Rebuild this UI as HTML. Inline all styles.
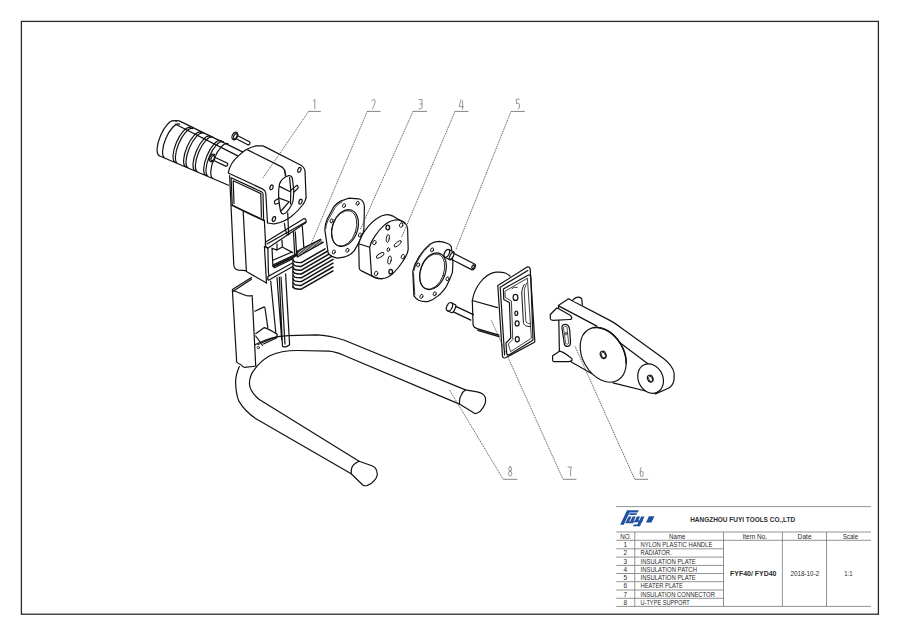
<!DOCTYPE html>
<html><head><meta charset="utf-8">
<style>
html,body{margin:0;padding:0;background:#fff;width:900px;height:636px;overflow:hidden}
svg{display:block}
text{font-family:"Liberation Sans",sans-serif}
</style></head><body>
<svg width="900" height="636" viewBox="0 0 900 636">
<rect x="0" y="0" width="900" height="636" fill="#fff"/>
<!-- border -->
<rect x="21.4" y="21.4" width="857" height="592.8" fill="none" stroke="#2a2a2a" stroke-width="1.3"/>

<!-- DRAWING -->
<g id="drawing" fill="none" stroke="#111" stroke-width="1.2" stroke-linejoin="round" stroke-linecap="round">
<g id="handle" transform="translate(166,138) rotate(23)">
<path d="M1,-19 A7,19 0 0 0 1,19 M0,19 H76 M1,-19 C1.5,-20 2.5,-20 3,-19 M7,-18 A7,18.5 0 0 0 7,19 M18.3,-19 A7,19 0 0 0 18.3,19 M20.9,-19 A7,19 0 0 0 20.9,19 M29.8,-19 A7,19 0 0 0 29.8,19 M32.4,-19 A7,19 0 0 0 32.4,19 M40,-19 A7,19 0 0 0 40,19 M42.6,-19 A7,19 0 0 0 42.6,19 M51.6,-19 A7,19 0 0 0 51.6,19 M54.1,-19 A7,19 0 0 0 54.1,19 M59.3,-19 A7,19 0 0 0 59.3,19 "/>
</g>
<path d="M176.5,120.6 C178,120.5 179.5,120.8 180.3,121.4 L242.5,151.9 M175.6,124.2 L238.2,156.1"/>
<g id="bolts">
<g transform="translate(234.9,136) rotate(28)"><path fill="#fff" stroke="none" d="M0,-4 H2 V4 H0 Z"/><ellipse rx="2.6" ry="4" fill="#fff"/><path d="M3,-1.7 H15.5 A1.3,1.7 0 0 1 15.5,1.7 H3"/><ellipse cx="0.5" rx="1.5" ry="2.8"/></g>
<g transform="translate(212.3,158) rotate(25)"><path fill="#fff" stroke="none" d="M0,-4 H2 V4 H0 Z"/><ellipse rx="2.6" ry="4" fill="#fff"/><path d="M3,-1.7 H15.5 A1.3,1.7 0 0 1 15.5,1.7 H3"/><ellipse cx="0.5" rx="1.5" ry="2.8"/></g>
</g>
<g id="housing">
<path fill="#fff" stroke="none" d="M228.3,172.6 C229.5,166 234,159.5 239.2,155.1 C243.5,151 249,147.5 256.2,145.9 L262.8,145.9 L265.6,147.1 L300.5,165 C302.5,166 304.5,168 305,171 L306.1,197.6 C305.5,200 304.5,202 303,203.7 C300,208 297,212 291,217 C286,220.5 280,223 275.4,223.7 L268.3,223.1 L268,228 L233,228 Z"/>
<path d="M228.3,172.6 C229.5,166 234,159.5 239.2,155.1 C243.5,151 249,147.5 256.2,145.9 L262.8,145.9 L265.6,147.1 L300.5,165 C302.5,166 304.5,168 305,171 L306.1,197.6"/>
<path d="M247.7,149.9 L280.7,166.4 C283,167.5 284.6,169.5 285,172 L285.4,176"/>
<path d="M228.3,173 L262.8,189.1 C264.6,190 265.6,191.5 265.8,193.5 L267.5,223"/>
<path d="M231.1,177.8 L261.5,191.8 C262.5,192.3 263,193 263,194 L263.6,219.5 M231.1,177.8 L232.2,205"/>
<path d="M233.2,180.8 L260.8,193.6 L261.4,217.2 M233.2,180.8 L234,203.5"/>
<path d="M306.1,197.6 C305.5,201 304,203 303,204.5 C300,208.5 296.5,212.5 291,216.8 C286.5,220 281,222.8 275.4,223.7 C272,224 270,223.6 268,223"/>
<path d="M288.7,175.6 C285,176.5 280.5,180 279.5,184 C278.3,190 278.6,202 280.5,210.9 C281,213 282,214.2 283.5,214 C285,213.5 286.5,212.5 287.5,211 C290.5,207.5 292.8,203.7 293.3,199 L293.8,190.4 L292.3,178 C291.6,176 290.2,175.3 288.7,175.6 Z"/>
<path d="M279.5,186.4 L289.7,191.5 M280.5,198.6 L289.2,201.7 L281.5,210.5 M289.6,177.6 L290.8,190.4 L290.5,204"/>
<path d="M290.8,190.4 L296.4,185.6 C297.8,185 298.4,186.8 297.9,188.4 L293.8,192.2"/>
<path d="M279.5,198.1 L275,200.5 C274,201.5 274.3,204 275.8,204.2 L279.5,202.7"/>
<ellipse cx="271.5" cy="187.3" rx="1.5" ry="2.5" transform="rotate(20 271.5 187.3)"/>
<ellipse cx="299.4" cy="169.9" rx="1.5" ry="2.5" transform="rotate(20 299.4 169.9)"/>
<ellipse cx="300.5" cy="201.6" rx="1.5" ry="2.5" transform="rotate(20 300.5 201.6)"/>
<ellipse cx="273.9" cy="219" rx="1.5" ry="2.5" transform="rotate(20 273.9 219)"/>
<path d="M284.6,170 L285.7,175.3 M287.7,212.9 L288.7,235"/>
</g>
<g id="frame">
<path d="M229.6,175.5 L233.8,265.3 C234,267.5 236,269.8 238.5,270.2 L245.8,270.6"/>
<path d="M243.2,211.3 L246.4,271.6 L266.5,283"/>
<path d="M232.2,205.3 L243.9,211 L264.2,220.6" stroke-width="1.7"/>
<path d="M264.4,221.3 L265.5,242.2 M264.4,246.3 L266.5,283 M264.4,246.3 L267.5,248.2"/>
<path d="M265.3,242.2 L304.2,218.6 C305.6,218.5 306.5,220.5 306.1,222.4 L268.4,247.8 C266.5,248 265,246 265.3,242.2 Z"/>
<path d="M267,244.1 L305.6,221.9"/>
<path d="M284.4,223.3 L285.4,230 L287.2,234.6"/>
<path d="M293.4,231.8 L294.8,255.4 M295.3,231.8 L296.7,255.4 M302.3,226.2 L303.8,246.9"/>
<path d="M272,248.2 L272.9,266.4 M272,248.2 L277,250.1 L282.3,247 L292.7,252.6 M277,244.1 L277,250.1 M282,240 L282.3,247 M272.9,260.2 L292,252"/>
<path d="M267.9,247.8 L268.4,272 L269,276"/>
<path d="M273.8,264.6 L296.5,253.9 M274.5,267.7 L297.7,256.4 M273.8,264.6 C273,265.5 273.3,267.3 274.5,267.7"/>
<path d="M274.2,266.1 L297,255.1" stroke-dasharray="0.7 0.6" stroke-width="1.8"/>
<path d="M268,276.5 L305,256 M268.5,280.2 L305,259.6 M268,276.5 C267.5,278 267.6,279.6 268.5,280.2"/>
<path d="M270.7,281 L276.2,336.8 M277,277.5 L281.7,340 M279.3,277 L282.5,346.2 C283.5,347.5 287,347 289.6,344.7 L285.6,273.9 M281,277 L285,344"/>
<path d="M294.8,256 L296,280 M297.3,256 L298.5,275"/>
</g>
<g id="radiator">
<path fill="#fff" stroke="none" d="M292.8,258.6 L322,241 L333,246 L334,272 L300,292 L293,290 Z"/>
<path d="M293.2,260.0 C293.4,262.0 295.5,262.8 301.3,262.6 L325.1,248.8 M293.2,263.8 C293.4,265.8 295.5,266.6 301.3,266.4 L333,248.0 M293.2,267.6 C293.4,269.6 295.5,270.4 301.3,270.2 L333,251.8 M293.2,271.4 C293.4,273.4 295.5,274.2 301.3,274.0 L333,255.6 M293.2,275.2 C293.4,277.2 295.5,278.0 301.3,277.8 L333,259.4 M293.2,279.0 C293.4,281.0 295.5,281.8 301.3,281.6 L333,263.2 M293.2,282.8 C293.4,284.8 295.5,285.6 301.3,285.4 L333,267.0 M293.2,286.6 C293.4,288.6 295.5,289.4 301.3,289.2 L333,270.8 " stroke-width="1.5"/>
<path d="M292.9,257.5 L292.9,287.5"/>
<path d="M297.9,250.7 L320.6,239.4 M297.4,256.9 L323.4,242.2 M297.9,250.7 C296.8,252.5 296.6,255 297.4,256.9"/>
<path d="M297.7,253.8 L322,240.8" stroke-width="4.6" stroke-dasharray="0.7 0.6" stroke-linecap="butt"/>
</g>
<g id="plate3">
<path fill="#fff" d="M348.6,198.2 L358.8,198.8 C361,199.5 362.5,200.5 363.3,202.2 C364,203.5 364.4,205 364.4,206.7 L363.9,229.4 C363.5,232 363,233.5 362.2,235 C359.5,241.5 357,246.5 354.2,250.9 C351,254.5 347.5,256.5 344,257.1 L337.2,258.2 C333.5,257.5 330,255.5 328.2,253.1 L324.8,229.4 C325,225 326,222 327.1,219.2 L333.8,206.7 C336,204 338,202.5 340.6,201.1 Z"/>
<path d="M325.9,228.5 C326.2,224 327.5,221 329,218.5 L335,207.8 C337,205 339.5,203 342,202" stroke-width="0.8"/>
<ellipse cx="345" cy="228" rx="12.6" ry="19" transform="rotate(19 345 228)"/>
<ellipse cx="344.2" cy="228.4" rx="11.8" ry="18.4" transform="rotate(19 344.2 228.4)" stroke-width="0.8"/>
<g stroke-width="0.9">
<ellipse cx="344" cy="205.6" rx="1.4" ry="2.1" transform="rotate(20 344 205.6)"/>
<ellipse cx="357.6" cy="203.3" rx="1.4" ry="2.1" transform="rotate(20 357.6 203.3)"/>
<ellipse cx="331.6" cy="220.9" rx="1.4" ry="2.1" transform="rotate(20 331.6 220.9)"/>
<ellipse cx="359.9" cy="235" rx="1.4" ry="2.1" transform="rotate(20 359.9 235)"/>
<ellipse cx="347.4" cy="250.3" rx="1.4" ry="2.1" transform="rotate(20 347.4 250.3)"/>
<ellipse cx="333.8" cy="252" rx="1.4" ry="2.1" transform="rotate(20 333.8 252)"/>
</g>
</g>
<g id="patch4">
<path fill="#fff" d="M358.7,243.8 C360.5,238 362.5,233.5 365.6,229.8 C369,225 373,221 377.3,218.2 C380.5,216 383.5,215 386.6,214.7 C389,214.6 391.5,215.3 393.6,216.4 L405.2,223.4 C406.5,224.5 407.3,226.5 407.6,228.6 L408.2,249.6 C407.5,253.5 405.5,257.5 402.9,261.2 C399.5,266.5 396,270.5 392.4,274.1 C389,276.8 385.5,278.5 382,278.7 C379.5,278.8 377,278.3 375,277.6 L369.1,274.6 L361,270.6 C360,270 359.3,269 359.2,268 Z"/>
<path d="M358.7,243.8 L369.7,247.3 L371.5,275.2 M369.7,247.3 C370.5,243.5 372,240 374.4,236.8 C377.5,232 381,228 384.3,225.1 C388,222 392.5,220 397.1,219.9 C400,219.8 403,221 405.2,223.4"/>
<path d="M371.5,275.2 C374,277.5 378,278.8 382,278.7"/>
<g stroke-width="0.9">
<ellipse cx="387.8" cy="238.5" rx="1.5" ry="4" transform="rotate(8 387.8 238.5)"/>
<ellipse cx="389.5" cy="260.1" rx="1.7" ry="4.2" transform="rotate(8 389.5 260.1)"/>
<ellipse cx="380.2" cy="255.4" rx="4.3" ry="1.7" transform="rotate(-32 380.2 255.4)"/>
<ellipse cx="397.7" cy="243.8" rx="4.4" ry="1.7" transform="rotate(-38 397.7 243.8)"/>
<ellipse cx="388.4" cy="249.6" rx="1.3" ry="1.9" transform="rotate(15 388.4 249.6)"/>
<ellipse cx="387.8" cy="227.5" rx="1.8" ry="2.3" stroke-width="1.3"/>
<ellipse cx="401.2" cy="225.1" rx="1.6" ry="2.3" transform="rotate(20 401.2 225.1)"/>
<ellipse cx="374.4" cy="242.6" rx="1.6" ry="2.3" transform="rotate(20 374.4 242.6)"/>
<ellipse cx="402.9" cy="256.6" rx="1.6" ry="2.3" transform="rotate(20 402.9 256.6)"/>
<ellipse cx="376.1" cy="273.5" rx="1.6" ry="2.3" transform="rotate(20 376.1 273.5)"/>
<ellipse cx="390.7" cy="271.7" rx="1.8" ry="2.3" stroke-width="1.3"/>
</g>
</g>
<g id="plate5">
<path fill="#fff" d="M439,241.3 C442,241.6 445,242.3 447.6,243.5 C449.5,244.3 450.7,245.3 451.3,246.7 L452.9,262.7 L452.4,272.4 C450.7,277.5 448.7,282 446.5,286.3 C443.5,290.5 441,293.5 438,295.9 C435,298.5 431.5,300.5 428.3,301.3 C425,301.8 421.5,301.4 418.7,300.2 C416.5,299 415,297.5 413.9,295.9 L412.8,271.3 C414,266 416,261.5 418.7,257.4 C421.5,252.5 425,248 429.4,244.6 C432.5,242.5 435.5,241.3 439,241.3 Z"/>
<path d="M414.1,270.5 C415.2,265.5 417.2,261.2 419.8,257.2 C422.6,252.5 426,248.5 430,245.3" stroke-width="0.8"/>
<path d="M413.5,273 L414.8,295" stroke-width="0.8"/>
<ellipse cx="433" cy="271.2" rx="12.4" ry="19" transform="rotate(20 433 271.2)"/>
<ellipse cx="432.2" cy="271.6" rx="11.6" ry="18.4" transform="rotate(20 432.2 271.6)" stroke-width="0.8"/>
<g stroke-width="0.9">
<ellipse cx="432.1" cy="249.9" rx="1.4" ry="2.1" transform="rotate(20 432.1 249.9)"/>
<ellipse cx="418.2" cy="264.9" rx="1.4" ry="2.1" transform="rotate(20 418.2 264.9)"/>
<ellipse cx="447.6" cy="278.8" rx="1.4" ry="2.1" transform="rotate(20 447.6 278.8)"/>
<ellipse cx="434.7" cy="293.8" rx="1.4" ry="2.1" transform="rotate(20 434.7 293.8)"/>
<ellipse cx="421.4" cy="296.4" rx="1.4" ry="2.1" transform="rotate(20 421.4 296.4)"/>
</g>
<g transform="translate(446.8,253.4) rotate(27)">
<path fill="#fff" d="M0,-4.5 H6 V4.5 H0 Z" stroke="none"/>
<ellipse cx="0" cy="0" rx="2.3" ry="4.3" fill="#fff"/>
<path d="M0,-4.3 H5.5 M0,4.3 H5.5"/>
<ellipse cx="5.5" cy="0" rx="1.6" ry="4.3" fill="#fff"/>
<path d="M5.5,-3.2 H29.5 A2,3.2 0 0 1 29.5,3.2 H6"/>
<ellipse cx="29.5" cy="0" rx="1.1" ry="1.9"/>
</g>
</g>
<g id="heater7">
<path d="M472.3,300.5 C473.5,293.5 476.5,287 480.5,282 C485,276.5 490.5,273 495.9,272.2 C500,271.8 503,272.2 505.3,273 C507.5,274 509,275 510,276.2"/>
<path d="M472.3,300.5 L473.1,324.9 C473.5,327 475.5,328.2 477.8,328.8 L499,335.1 M472.3,300.5 L497.5,307.6 M477.8,330.3 L499,336.6"/>
<g transform="translate(449.5,306.8) rotate(25)">
<ellipse rx="2.7" ry="4.5"/><path d="M0.5,-4.4 H4.5 M0.5,4.4 H4.5 M4.5,-4.4 A1.4,4.4 0 0 1 4.5,4.4"/>
<path d="M5.5,-3 H25 M5.5,3 H25"/>
</g>
<path fill="#fff" d="M497.8,285.5 L527.1,267.1 C528.6,266.4 530,267.5 530.2,269.4 L534.8,340.9 C534.9,341.8 534.5,342.3 534,342.5 L505.5,357.8 C504,358.4 502.8,357.5 502.5,356.3 Z"/>
<path d="M500.2,287.3 L527.8,270.4 M500.2,287.3 L504.6,355"/>
<path d="M503.4,289 L528.4,275 C529.8,274.7 530.7,275.8 530.8,277.1 L533,339.2 C533,340.1 532.4,340.7 531.6,340.9 L509.6,354.6 C508.3,355.2 507,354.6 506.7,353.3 L506,343 L510.8,338 L509.4,302.5 L503.8,299.4 Z"/>
<path d="M505.3,291 L527.4,278.2 L531.4,338.2 L510.6,351.6 L508.3,344 L512.8,339.5 L511.4,301 L505.6,297.6 Z" stroke-width="0.8"/>
<path d="M524.2,284.5 C522.3,288 521.6,291 521.8,294 L523.4,322.5 C523.7,325.3 526,326.5 530.4,326.5" stroke-width="1"/>
<path d="M526.6,283.2 C524.8,287 524.2,290 524.3,293 L525.8,320.5 C526,322.8 527.8,323.8 530.2,323.8" stroke-width="0.8"/>
<path d="M512,288.6 C513.5,287.2 515.5,286.8 517.2,287.5" stroke-width="0.9"/>
<ellipse cx="515.5" cy="297.4" rx="2.4" ry="3"/>
<ellipse cx="516.3" cy="313.2" rx="1.4" ry="2.2"/>
<ellipse cx="517.1" cy="323.4" rx="2" ry="2.6"/>
<ellipse cx="517.3" cy="339.2" rx="2" ry="2.6"/>
</g>
<g id="heater6">
<path fill="#fff" stroke="none" d="M558.3,305.4 L568.5,298.7 L610.3,320.6 L662.9,357.9 C673,365 674.5,372 674,380.3 C673,385 670,388 667.3,388.8 L655.4,393.9 L611.2,382 L570.5,361.6 L559.4,353.1 Z"/>
<path d="M558.3,305.4 L568.5,298.7 L610.3,320.6 C614.5,322.8 619.5,326.5 623.8,329.8 L662.9,357.9 C669,362.5 673.5,368 674.2,373.5 L674,380.3 C673,384.5 670.5,387.5 667.3,388.8 L655.4,393.9"/>
<path d="M558.6,305.9 L596.9,326.1 M614,338.3 L648.2,364"/>
<path d="M558.6,305.9 L558.6,309.1 M558.8,320.3 L559.4,351.5 M570.5,361.6 L595.9,376 M612.9,382.8 L653.7,393"/>
<path fill="#fff" d="M572.2,300.6 C574,298.5 575.5,297.2 577.6,297.1 C580,297 581.6,298 581.8,299.5 L582.4,304.8"/>
<path fill="#fff" d="M550.3,314.5 L556.7,308 L558.3,308.6 L570.6,315.5 C571.5,316.5 571.8,317.8 571.7,318.7 C571,319.3 570.2,319.5 569.5,319.5 L553,320.3 C551,320.2 550.4,319.5 550.3,318.7 Z"/>
<path fill="#fff" d="M552.6,355.7 L559.5,351.2 C561.5,351.2 563.5,352.2 570.5,357.4 C571.8,358.3 572.3,359 572.2,359.9 C571.5,361.2 570,361.6 568.8,361.6 L553.5,361.6 C552.8,361.2 552.5,360.2 552.6,359.1 Z"/>
<path d="M562.5,325.5 C564,324.3 566.5,324.3 568,325.5 C569,326.5 569.5,328 569.7,330 L570.5,342.5 C570.5,344.5 569.5,346 568,346.3 C566,346.6 564.8,345.8 564.3,344 L562,328 C561.9,327 562,326 562.5,325.5 Z"/>
<path d="M563.8,327 C564.8,326.2 566.3,326.2 567,327 L568.6,343 C568.4,344.3 566.5,344.8 565.8,343.5 Z" stroke-width="0.7"/>
<ellipse cx="566.2" cy="333.6" rx="1" ry="1.3" stroke-width="0.8"/>
<ellipse cx="603.2" cy="354.8" rx="20.5" ry="29.3" transform="rotate(-30 603.2 354.8)" fill="#fff"/>
<path d="M593.6,327.6 L595.8,327.4 L598.0,327.5 L600.3,327.9 L602.6,328.5 L604.9,329.4 L607.2,330.5 L609.4,331.9 L611.6,333.5 L613.7,335.4 L615.7,337.4 L617.6,339.6 L619.3,342.0 L620.9,344.4 L622.3,347.0 L623.5,349.7 L624.5,352.4 L625.2,355.2 L625.8,357.9 L626.1,360.6 L626.2,363.3" stroke-width="1.5"/>
<ellipse cx="603.2" cy="354.8" rx="2.8" ry="3.8" transform="rotate(-20 603.2 354.8)"/>
<ellipse cx="603.5" cy="355.1" rx="1.9" ry="2.9" transform="rotate(-20 603.5 355.1)" stroke-width="0.8"/>
<ellipse cx="650.6" cy="378.6" rx="12.3" ry="15.2" transform="rotate(-25 650.6 378.6)" fill="#fff"/>
<ellipse cx="650.3" cy="378.6" rx="2.7" ry="3.6" transform="rotate(-20 650.3 378.6)"/>
<ellipse cx="650.6" cy="378.9" rx="1.8" ry="2.7" transform="rotate(-20 650.6 378.9)" stroke-width="0.8"/>
</g>
<g id="bracket">
<path fill="#fff" stroke="none" d="M232.4,290 L251.4,278 L252.5,296 L255.7,365.6 L244.5,367.4 L236.7,362.2 Z M252.5,311 L264.3,306.9 L267.8,327.6 L277.3,334.5 L276.4,338 L263.5,344 L255.7,345 Z"/>
<path d="M232.4,289.6 L251.4,277.5 M233.2,291.3 L251.4,279.2"/>
<path d="M233.2,290.5 L245.3,295.2 C246.5,295.8 248.5,296 252.2,295.6"/>
<path d="M232.4,290.5 L236.7,362.2 C238,363.5 239.5,364.3 241,364.8 C242.5,366.5 243.5,367.4 244.5,367.4 L253.1,366.5 C254.8,366.3 255.6,366 255.7,365.6 L252.2,296.5"/>
<path d="M254.8,311.2 L264.3,306.9 C265,307.5 265.2,308.5 265.2,309.5 L267.8,327.6"/>
<path d="M255.7,333.7 L264.3,327.6 C267.5,328.5 273,331.5 277.3,334.5 L276.4,338 L263.5,344 M255.7,336 L262.5,345.5 M258,344.5 L275.5,337"/>
<ellipse cx="258.3" cy="347.5" rx="1.2" ry="1.2" stroke-width="0.8"/>

</g>
<g id="usupport">
<path d="M239.3,366.5 C237,372 235.5,377 235.6,382.2 C235.8,390 236.5,395 238.7,400.9 C243,408 249,414.5 257.3,419.6 L351.2,473.8"/>
<path d="M359.1,461.2 L258.9,399.3 C254,395 250.5,390.5 249.6,385.3 C249,379.5 250.5,374.5 254.2,369.8 C258,364.5 263,359.5 269.8,355.8 C277.5,352 286,350.5 297.8,350.5 L328.9,351.1 C334,351.4 338.5,353 343,355 L459.5,404.1"/>
<path d="M255,344.8 C265,339.5 276,336 288.4,335.6 L316.5,334.9 C326,335.2 335,337.2 344.4,340.2 L465.4,389.9"/>
<path fill="#fff" d="M359.1,461.2 C355,463 352.2,466 351.6,468.3 C351.3,470 351.2,472 351.2,473.8 L363,485.2 C364.5,485.8 366,485.8 367,485.6 C370.5,484.5 372.5,482.8 374,480.9 C376.5,478 377.5,476 377.2,473.8 C377,471 376.5,469.5 375.6,468.3 C374.5,467 373.5,466.5 372.5,466 Z"/>
<path fill="#fff" d="M465.4,389.9 C463.5,391 462,393 461.4,394.7 C460,397 459.5,399 459.5,400.9 L459.5,404.1 L474.8,413.5 C476.5,413.8 478.5,412.5 480.3,411.2 C482.5,409 484,406.5 485,404.1 C485.6,402 485.8,400 485.4,397.8 C485,396 484,394.8 482.7,393.9 C481,392.8 479,392.3 477.2,391.9 Z"/>
</g>
</g>

<!-- leaders -->
<g fill="none" stroke="#333" stroke-width="0.8" stroke-dasharray="1.2 0.8">
<path d="M263.1,177.8 L308.6,111.4"/>
<path d="M310.7,244.7 L367.3,111.4"/>
<path d="M360.5,229 L413,111.4"/>
<path d="M401.8,236.9 L455,111.4"/>
<path d="M456,249.3 L511,111.4"/>
<path d="M449.4,389.7 L503.2,479.3"/>
<path d="M491.3,320.3 L563,479.3"/>
<path d="M575,346.3 L634.7,479.3"/>
</g>
<g fill="none" stroke="#666" stroke-width="0.8">
<path d="M308.3,111.4 H320.8"/>
<path d="M367,111.4 H380.6"/>
<path d="M412.9,111.4 H427"/>
<path d="M454.6,111.4 H468.5"/>
<path d="M511,111.4 H524.8"/>
<path d="M503.2,479.3 H517.3"/>
<path d="M563,479.3 H576.4"/>
<path d="M634.7,479.3 H648.2"/>
</g>
<!-- digits -->
<g fill="none" stroke="#7a7a7a" stroke-width="0.8" stroke-linecap="round" stroke-linejoin="round">
<path transform="translate(313.6,99.4)" d="M0,1.6 L1.2,0 V9.4"/>
<path transform="translate(372,99.4)" d="M0,1.4 Q0.3,0 1.6,0 Q3.2,0 3.2,2 Q3.2,3.5 0.6,9.4"/>
<path transform="translate(418.8,99.6)" d="M0,0 H3.2 V4.4 H1.2 M3.2,4.4 V7.8 Q3.1,9.2 1.8,9.2 H0.2"/>
<path transform="translate(458.8,99.8)" d="M3.8,1 V9.2 M2.2,0 L0.4,6.8 H4.6"/>
<path transform="translate(516.2,99.2)" d="M3,0 H0.2 V4.2 H2.6 Q3.2,4.4 3.2,5.2 V8.4 Q3,9.4 2,9.4"/>
<path transform="translate(508.4,466.6)" d="M1.8,0 Q0.4,0 0.4,2.3 Q0.4,4.4 1.8,4.4 Q3.2,4.4 3.2,2.3 Q3.2,0 1.8,0 Z M1.8,4.4 Q0.2,4.4 0.2,7 Q0.2,9.6 1.8,9.6 Q3.4,9.6 3.4,7 Q3.4,4.4 1.8,4.4"/>
<path transform="translate(568,466.6)" d="M0,0.4 H3.6 Q2.6,2 2.6,3.6 V9.4"/>
<path transform="translate(640.2,467.2)" d="M1.2,0 Q0.1,0.6 0.1,3 V7.6 Q0.2,9.4 1.6,9.4 Q3,9.4 3,7.4 V6 Q3,4.2 1.6,4.2 Q0.4,4.2 0.1,5"/>
</g>

<!-- title block -->
<g fill="none" stroke="#777" stroke-width="0.8">
<path d="M616.2,506.6 H871 M616.2,532 H871 M616.2,540.3 H871 M616.2,606.4 H871"/>
<path d="M616.2,548.8 H723.5 M616.2,557.1 H723.5 M616.2,565.4 H723.5 M616.2,573.5 H723.5 M616.2,581.7 H723.5 M616.2,590 H723.5 M616.2,598.3 H723.5"/>
<path d="M634.8,532 V606.4 M723.5,532 V606.4 M782.4,532 V606.4 M826.5,532 V606.4"/>
</g>
<path d="M627.00,510.20 L630.60,510.20 L623.78,524.70 L620.18,524.70 Z M627.00,510.20 L638.80,510.20 L637.67,512.60 L625.87,512.60 Z M629.80,513.30 L637.00,513.30 L636.25,514.90 L629.05,514.90 Z M628.60,516.40 L631.60,516.40 L628.36,523.30 L625.36,523.30 Z M632.60,516.40 L635.80,516.40 L632.56,523.30 L629.36,523.30 Z M626.00,521.60 L634.00,521.60 L633.20,523.30 L625.20,523.30 Z M636.90,516.40 L640.20,516.40 L637.43,522.30 L634.13,522.30 Z M641.20,516.40 L644.50,516.40 L639.85,526.30 L636.55,526.30 Z M634.40,520.60 L643.00,520.60 L642.20,522.30 L633.60,522.30 Z M633.80,524.60 L640.80,524.60 L640.00,526.30 L633.00,526.30 Z M648.90,516.20 L654.40,516.20 L651.49,522.40 L645.99,522.40 Z " fill="#1f4f9e"/>
<g fill="#2a2a2a" font-size="6.45">
<text x="690.2" y="522" font-weight="bold" font-size="7.1" textLength="104.9" lengthAdjust="spacingAndGlyphs">HANGZHOU FUYI TOOLS CO.,LTD</text>
<text x="620.2" y="538.9" textLength="11.1" lengthAdjust="spacingAndGlyphs">NO.</text>
<text x="669" y="538.9" textLength="16.5" lengthAdjust="spacingAndGlyphs">Name</text>
<text x="742.5" y="538.9" textLength="24.6" lengthAdjust="spacingAndGlyphs">Item No.</text>
<text x="797.6" y="538.9" textLength="14" lengthAdjust="spacingAndGlyphs">Date</text>
<text x="842.7" y="538.9" textLength="15.5" lengthAdjust="spacingAndGlyphs">Scale</text>
<g text-anchor="middle">
<text x="625.3" y="547.1">1</text><text x="625.3" y="555.4">2</text><text x="625.3" y="563.5">3</text><text x="625.3" y="571.8">4</text>
<text x="625.3" y="580">5</text><text x="625.3" y="588.3">6</text><text x="625.3" y="596.6">7</text><text x="625.3" y="604.7">8</text>
</g>
<text x="640.5" y="547.1" textLength="71.8" lengthAdjust="spacingAndGlyphs">NYLON PLASTIC HANDLE</text>
<text x="640.5" y="555.4" textLength="31.1" lengthAdjust="spacingAndGlyphs">RADIATOR.</text>
<text x="640.5" y="563.5" textLength="55.3" lengthAdjust="spacingAndGlyphs">INSULATION PLATE</text>
<text x="640.5" y="571.8" textLength="56.5" lengthAdjust="spacingAndGlyphs">INSULATION PATCH</text>
<text x="640.5" y="580" textLength="55.3" lengthAdjust="spacingAndGlyphs">INSULATION PLATE</text>
<text x="640.5" y="588.3" textLength="42.4" lengthAdjust="spacingAndGlyphs">HEATER PLATE</text>
<text x="640.5" y="596.6" textLength="74.4" lengthAdjust="spacingAndGlyphs">INSULATION CONNECTOR</text>
<text x="640.5" y="604.7" textLength="49.3" lengthAdjust="spacingAndGlyphs">U-TYPE SUPPORT</text>
<text x="730" y="576.1" font-weight="bold" font-size="7.1" textLength="46.4" lengthAdjust="spacingAndGlyphs">FYF40/ FYD40</text>
<text x="790.4" y="576.1" textLength="28.9" lengthAdjust="spacingAndGlyphs">2018-10-2</text>
<text x="844.2" y="576.1" textLength="8.4" lengthAdjust="spacingAndGlyphs">1:1</text>
</g>
</svg>
</body></html>
